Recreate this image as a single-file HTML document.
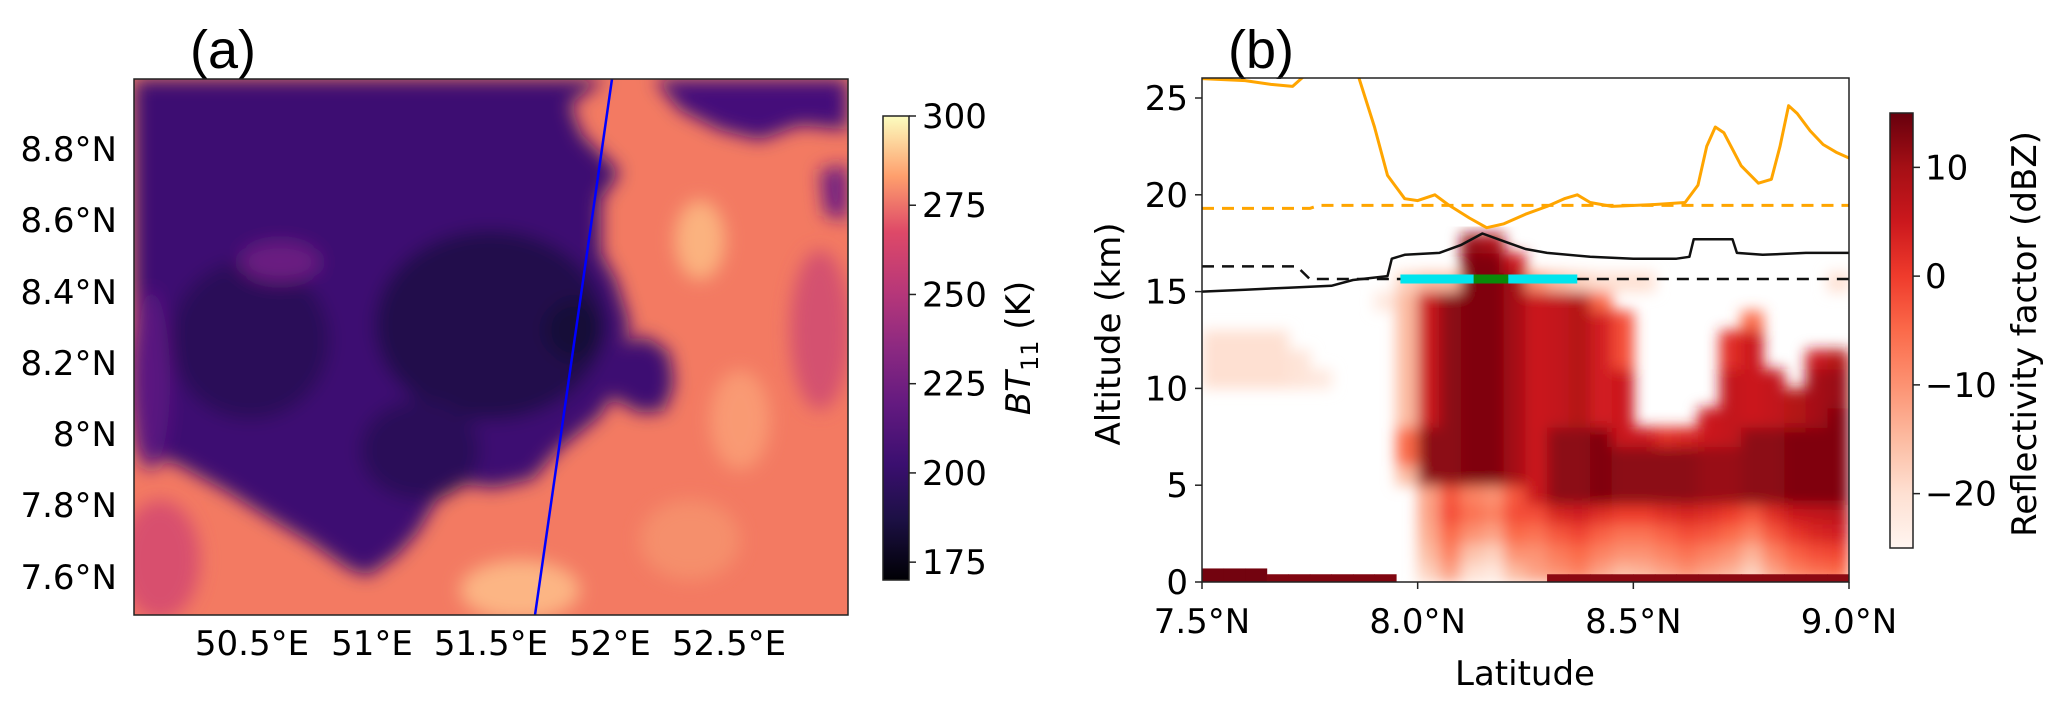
<!DOCTYPE html>
<html><head><meta charset="utf-8"><style>
html,body{margin:0;padding:0;background:#fff;}
svg{display:block;font-family:"DejaVu Sans","Liberation Sans",sans-serif;}
</style></head><body>
<svg id="fig" width="2067" height="708" viewBox="0 0 2067 708" xmlns="http://www.w3.org/2000/svg">
<defs>
  <filter id="blurMap" x="-5%" y="-5%" width="110%" height="110%"><feGaussianBlur stdDeviation="9"/></filter>
  <filter id="blurRef" x="-2%" y="-2%" width="104%" height="104%"><feGaussianBlur stdDeviation="7"/></filter>
  <clipPath id="clipA"><rect x="134" y="79" width="714" height="536"/></clipPath>
  <clipPath id="clipB"><rect x="1202" y="78" width="647" height="504"/></clipPath>
  <linearGradient id="magma" x1="0" y1="1" x2="0" y2="0">
    <stop offset="0" stop-color="#000004"/><stop offset="0.13" stop-color="#1c1044"/>
    <stop offset="0.25" stop-color="#3b0f70"/><stop offset="0.38" stop-color="#641a80"/>
    <stop offset="0.5" stop-color="#8c2981"/><stop offset="0.62" stop-color="#b73779"/>
    <stop offset="0.75" stop-color="#de4968"/><stop offset="0.87" stop-color="#fe9f6d"/>
    <stop offset="1" stop-color="#fcfdbf"/>
  </linearGradient>
  <linearGradient id="reds" x1="0" y1="1" x2="0" y2="0">
    <stop offset="0" stop-color="#fff5f0"/><stop offset="0.125" stop-color="#fee0d2"/>
    <stop offset="0.25" stop-color="#fcbba1"/><stop offset="0.375" stop-color="#fc9272"/>
    <stop offset="0.5" stop-color="#fb6a4a"/><stop offset="0.625" stop-color="#ef3b2c"/>
    <stop offset="0.75" stop-color="#cb181d"/><stop offset="0.875" stop-color="#a50f15"/>
    <stop offset="1" stop-color="#67000d"/>
  </linearGradient>
</defs>

<!-- Panel a -->
<text x="190" y="68" font-family="Liberation Sans, sans-serif" font-size="54">(a)</text>
<g clip-path="url(#clipA)">
  <rect x="134" y="79" width="714" height="536" fill="#f37a62"/>
  <g filter="url(#blurMap)">
    <ellipse cx="700" cy="240" rx="25" ry="40" fill="#fbb27f"/>
    <ellipse cx="740" cy="420" rx="30" ry="50" fill="#f99a73"/>
    <ellipse cx="520" cy="590" rx="60" ry="30" fill="#fcb584"/>
    <ellipse cx="160" cy="560" rx="40" ry="60" fill="#d8506e"/>
    <ellipse cx="820" cy="330" rx="30" ry="80" fill="#d4516f"/>
    <ellipse cx="690" cy="540" rx="50" ry="40" fill="#f58f6c"/>
    <polygon fill="#3e0f72" points="134,79 606,79 570,104 582,135 620,172 601,199 601,253 616,280 630,325 625,343 645,336 669,352 674,384 664,411 640,413 611,397 601,415 557,451 533,479 494,488 460,483 436,501 417,533 397,555 368,576 349,569 310,542 271,519 228,492 179,465 141,451 134,447"/>
    <polygon fill="#45107a" points="654,79 848,79 848,130 800,125 760,140 720,130 680,110"/>
    <polygon fill="#6e1d81" points="820,170 848,165 848,220 825,215"/>
    <ellipse cx="490" cy="325" rx="115" ry="95" fill="#22104c"/>
    <ellipse cx="250" cy="340" rx="80" ry="80" fill="#2a1058"/>
    <ellipse cx="420" cy="450" rx="60" ry="50" fill="#2a1058"/>
    <ellipse cx="150" cy="380" rx="20" ry="90" fill="#5a1880"/>
    <ellipse cx="280" cy="262" rx="40" ry="20" fill="#6a1c81"/>
    <ellipse cx="575" cy="330" rx="30" ry="30" fill="#140b38"/>
  </g>
  <line x1="612" y1="79" x2="535" y2="615" stroke="#0000ff" stroke-width="2.5"/>
</g>
<rect x="134" y="79" width="714" height="536" fill="none" stroke="#222" stroke-width="1.5"/>
<g font-size="34" text-anchor="end">
  <text x="117" y="161">8.8°N</text><text x="117" y="232">8.6°N</text><text x="117" y="304">8.4°N</text>
  <text x="117" y="375">8.2°N</text><text x="117" y="446">8°N</text><text x="117" y="517">7.8°N</text><text x="117" y="589">7.6°N</text>
</g>
<g font-size="34" text-anchor="middle">
  <text x="252" y="655">50.5°E</text><text x="372" y="655">51°E</text><text x="491" y="655">51.5°E</text>
  <text x="610" y="655">52°E</text><text x="729" y="655">52.5°E</text>
</g>
<rect x="883" y="116" width="26" height="464" fill="url(#magma)" stroke="#222" stroke-width="1.5"/>
<g id="cbA" font-size="34"></g>
<text transform="translate(1030,348) rotate(-90)" text-anchor="middle" font-size="34"><tspan font-style="italic">BT</tspan><tspan font-size="24" dy="8">11</tspan><tspan dy="-8"> (K)</tspan></text>

<!-- Panel b -->
<text x="1228" y="68" font-family="Liberation Sans, sans-serif" font-size="54">(b)</text>
<g clip-path="url(#clipB)">
  <g id="refl" filter="url(#blurRef)"></g>
  <g id="surf"></g>
  <g id="lines"></g>
</g>
<rect x="1202" y="78" width="647" height="504" fill="none" stroke="#222" stroke-width="1.5"/>
<g id="axB" font-size="34"></g>
<text x="1525" y="685" text-anchor="middle" font-size="34">Latitude</text>
<text transform="translate(1120,334) rotate(-90)" text-anchor="middle" font-size="34">Altitude (km)</text>
<rect x="1890" y="113" width="23" height="435" fill="url(#reds)" stroke="#222" stroke-width="1.5"/>
<g id="cbB" font-size="34"></g>
<text transform="translate(2036,334) rotate(-90)" text-anchor="middle" font-size="34">Reflectivity factor (dBZ)</text>
</svg>
<script>
const N = null;
// colorbar ticks
const cbATicks = [175, 200, 225, 250, 275, 300];
const cbBTicks = [-20, -10, 0, 10];
// panel b axes
const latTicks = [7.5, 8.0, 8.5, 9.0];
const latTickLabels = ["7.5°N", "8.0°N", "8.5°N", "9.0°N"];
const altTicks = [0, 5, 10, 15, 20, 25];
// reflectivity grid: columns 7.5..9.0 step 0.05, rows alt 0..17 km (1 km)
const gridLat0 = 7.5, gridDLat = 0.05;
const reflRows = [
/*0*/ [N,N,N,N,N,N,N,N,N,N,-18,-12,-20,-22,-15,-12,-10,-8,-12,-15,-14,-12,-10,-12,-14,-18,-12,-8,-6,-5],
/*1*/ [N,N,N,N,N,N,N,N,N,N,-15,-8,-16,-18,-10,-10,-7,-5,-8,-10,-10,-8,-6,-8,-10,-14,-8,-4,-2,-1],
/*2*/ [N,N,N,N,N,N,N,N,N,N,-13,-5,-10,-12,-5,-6,-3,-1,-4,-6,-6,-4,-2,-3,-5,-8,-3,1,3,4],
/*3*/ [N,N,N,N,N,N,N,N,N,N,-12,-2,-6,-8,-2,-2,3,4,2,0,0,2,3,2,0,-3,2,5,6,7],
/*4*/ [N,N,N,N,N,N,N,N,N,N,-12,-3,-8,-10,-3,5,12,12,13,12,12,12,12,11,11,12,12,13,13,13],
/*5*/ [N,N,N,N,N,N,N,N,N,-15,12,12,13,13,10,5,12,12,13,12,12,12,12,11,11,12,12,13,13,13],
/*6*/ [N,N,N,N,N,N,N,N,N,-5,12,12,13,13,10,5,12,12,13,12,12,12,12,11,11,12,12,13,13,13],
/*7*/ [N,N,N,N,N,N,N,N,N,-5,12,12,13,13,10,5,12,12,13,5,5,2,3,5,6,12,12,13,13,13],
/*8*/ [N,N,N,N,N,N,N,N,N,-15,5,12,13,13,10,5,6,8,4,5,N,N,N,5,6,5,6,8,10,13],
/*9*/ [N,N,N,N,N,N,N,N,N,-15,5,12,13,13,10,5,6,8,4,5,N,N,N,N,6,5,6,8,10,11],
/*10*/[-20,-20,-20,-20,-21,-22,N,N,N,-15,5,12,13,13,10,5,6,8,4,5,N,N,N,N,6,5,6,N,10,11],
/*11*/[-20,-20,-20,-20,-21,N,N,N,N,-15,5,12,13,13,10,5,6,8,4,-2,N,N,N,N,2,5,N,N,5,8],
/*12*/[-20,-20,-20,-20,N,N,N,N,N,-15,5,12,13,13,10,5,6,8,4,-2,N,N,N,N,2,5,N,N,N,N],
/*13*/[N,N,N,N,N,N,N,N,N,-15,5,12,13,13,10,5,6,8,4,-2,N,N,N,N,N,-5,N,N,N,N],
/*14*/[N,N,N,N,N,N,N,N,-22,-15,5,12,13,13,10,5,6,8,-5,N,N,N,N,N,N,N,N,N,N,N],
/*15*/[N,N,N,N,N,N,N,N,N,-18,-15,-15,13,13,10,-10,-15,-18,-20,-20,-20,N,N,N,N,N,N,N,N,-20],
/*16*/[N,N,N,N,N,N,N,N,N,N,N,N,13,13,5,N,N,N,N,N,N,N,N,N,N,N,N,N,N,N],
/*17*/[N,N,N,N,N,N,N,N,N,N,N,N,11,9,N,N,N,N,N,N,N,N,N,N,N,N,N,N,N,N]
];
// near-surface echo (0-0.4 km)
const surfaceDbz = [14,14,14,13,13,13,13,13,13,N,N,N,N,N,N,N,12,12,12,12,12,12,12,12,12,12,12,12,12,12];
// lines
const orangeLat = [7.50,7.60,7.66,7.71,7.74,7.80,7.86,7.90,7.93,7.97,8.00,8.04,8.07,8.12,8.16,8.20,8.25,8.30,8.34,8.37,8.40,8.45,8.55,8.62,8.65,8.67,8.69,8.71,8.75,8.79,8.82,8.84,8.86,8.88,8.91,8.94,8.97,9.00];
const orangeAlt = [26.0,25.9,25.7,25.6,26.2,28,26.3,23.5,21,19.8,19.7,20.0,19.5,18.8,18.3,18.5,19.0,19.4,19.8,20.0,19.6,19.4,19.5,19.6,20.5,22.5,23.5,23.2,21.5,20.6,20.8,22.5,24.6,24.2,23.3,22.6,22.2,21.9];
const orangeDashLat = [7.5,7.75,7.77,9.0];
const orangeDashAlt = [19.3,19.3,19.45,19.45];
const blackLat = [7.5,7.6,7.7,7.8,7.85,7.93,7.94,7.97,8.05,8.1,8.15,8.2,8.25,8.3,8.4,8.5,8.6,8.63,8.64,8.73,8.74,8.8,8.9,9.0];
const blackAlt = [15.0,15.1,15.2,15.3,15.6,15.8,16.7,16.9,17.0,17.4,18.0,17.6,17.2,17.0,16.8,16.7,16.7,16.8,17.7,17.7,17.0,16.9,17.0,17.0];
const blackDashLat = [7.5,7.72,7.75,9.0];
const blackDashAlt = [16.3,16.3,15.65,15.65];
const overshootStart = [7.96, 8.13, 8.21];
const overshootEnd = [8.13, 8.21, 8.37];
const overshootColor = ["#00e5ee", "#0a8a0a", "#00e5ee"];
const overshootAlt = 15.65;

const NS = "http://www.w3.org/2000/svg";
function X(lat){ return 1202 + (lat - 7.5) / 1.5 * 647; }
function Y(alt){ return 582 - alt * 19.36; }
function cA(v){ return 580 - (v - 170) / 130 * 464; }
function cB(v){ return 548 - (v + 25) / 40 * 435; }
const redStops = ["#fff5f0","#fee0d2","#fcbba1","#fc9272","#fb6a4a","#ef3b2c","#cb181d","#a50f15","#67000d"];
function hex(c){ return [1,3,5].map(i => parseInt(c.substr(i,2),16)); }
function redColor(v){
  let t = Math.max(0, Math.min(1, (v + 25) / 40)) * 8;
  let i = Math.min(7, Math.floor(t)), f = t - i;
  const a = hex(redStops[i]), b = hex(redStops[i+1]);
  return "rgb(" + a.map((x,k) => Math.round(x + (b[k]-x)*f)).join(",") + ")";
}
function mk(tag, attrs, parent){
  const e = document.createElementNS(NS, tag);
  for (const k in attrs) e.setAttribute(k, attrs[k]);
  parent.appendChild(e); return e;
}
const refl = document.getElementById("refl");
reflRows.forEach((row, r) => {
  row.forEach((v, c) => {
    if (v === null) return;
    const x0 = X(gridLat0 + c * gridDLat), x1 = X(gridLat0 + (c + 1) * gridDLat);
    const cell = mk("rect", {x: x0, y: Y(r + 1), width: x1 - x0 + 0.5, height: Y(r) - Y(r + 1) + 0.5, fill: redColor(v)}, refl);
    
    
  });
});
const surf = document.getElementById("surf");
surfaceDbz.forEach((v, c) => {
  if (v === null) return;
  const x0 = X(gridLat0 + c * gridDLat), x1 = X(gridLat0 + (c + 1) * gridDLat);
  const h = c < 3 ? 0.7 : 0.4;
  const s = mk("rect", {x: x0, y: Y(h), width: x1 - x0 + 0.5, height: Y(0) - Y(h), fill: redColor(v)}, surf);
  
  
});
const lines = document.getElementById("lines");
function poly(lats, alts, color, w, dash, name){
  const pts = lats.map((l, i) => X(l).toFixed(1) + "," + Y(alts[i]).toFixed(1)).join(" ");
  const p = mk("polyline", {points: pts, fill: "none", stroke: color, "stroke-width": w, "stroke-linejoin": "round"}, lines);
  if (dash) p.setAttribute("stroke-dasharray", dash);
  
  
}
poly(orangeDashLat, orangeDashAlt, "#ffa500", 3, "12,8", "orange-dashed-line");
poly(orangeLat, orangeAlt, "#ffa500", 3, null, "orange-solid-line");
poly(blackDashLat, blackDashAlt, "#111", 2.5, "12,8", "black-dashed-line");
poly(blackLat, blackAlt, "#111", 2.5, null, "black-solid-line");
overshootStart.forEach((s, i) => {
  const seg = mk("line", {x1: X(s), x2: X(overshootEnd[i]), y1: Y(overshootAlt), y2: Y(overshootAlt), stroke: overshootColor[i], "stroke-width": 9}, lines);
  
  
});
const axB = document.getElementById("axB");
latTicks.forEach((l, i) => {
  const t = mk("line", {x1: X(l), x2: X(l), y1: 582, y2: 589, stroke: "#222", "stroke-width": 1.5}, axB);
  
  
  const tx = mk("text", {x: X(l), y: 633, "text-anchor": "middle"}, axB);
  tx.textContent = latTickLabels[i];
  
  
});
altTicks.forEach(a => {
  const t = mk("line", {x1: 1195, x2: 1202, y1: Y(a), y2: Y(a), stroke: "#222", "stroke-width": 1.5}, axB);
  
  
  const tx = mk("text", {x: 1188, y: Y(a) + 12, "text-anchor": "end"}, axB);
  tx.textContent = a;
  
  
});
const gA = document.getElementById("cbA");
cbATicks.forEach(v => {
  const t = mk("line", {x1: 909, x2: 916, y1: cA(v), y2: cA(v), stroke: "#222", "stroke-width": 1.5}, gA);
  
  
  const tx = mk("text", {x: 922, y: cA(v) + 12}, gA);
  tx.textContent = v;
  
  
});
const gB = document.getElementById("cbB");
cbBTicks.forEach(v => {
  const t = mk("line", {x1: 1913, x2: 1920, y1: cB(v), y2: cB(v), stroke: "#222", "stroke-width": 1.5}, gB);
  
  
  const tx = mk("text", {x: 1925, y: cB(v) + 12}, gB);
  tx.textContent = v < 0 ? "\u2212" + Math.abs(v) : v;
  
  
});
</script>
</body></html>
